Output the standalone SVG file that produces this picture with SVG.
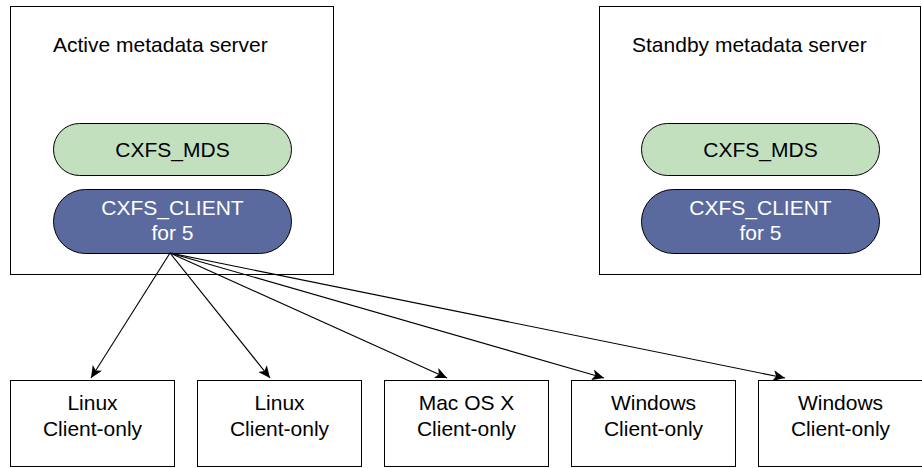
<svg xmlns="http://www.w3.org/2000/svg" width="922" height="468" viewBox="0 0 922 468">
<style>
.box{fill:#fff;stroke:#000;stroke-width:1}
.mds{fill:#c2e0bd;stroke:#000;stroke-width:1}
.cli{fill:#5a6a9e;stroke:#000;stroke-width:1}
text{font-family:"Liberation Sans",Arial,sans-serif;font-size:21px;fill:#000}
.c{text-anchor:middle}
.w{fill:#fff}
.edge{stroke:#000;stroke-width:1.1;fill:none;marker-end:url(#ah)}
</style>
<defs>
<marker id="ah" markerWidth="14" markerHeight="12" refX="12" refY="6" orient="auto" markerUnits="userSpaceOnUse">
<path d="M0,0.5 L12,6 L0,11.5 L3,6 Z" fill="#000"/>
</marker>
</defs>
<g id="active">
<rect class="box" x="10.5" y="6.5" width="323" height="268"/>
<text x="53" y="52">Active metadata server</text>
</g>
<g id="active-mds">
<rect class="mds" x="53.5" y="123.5" width="238" height="52" rx="26"/>
<text class="c" x="172.5" y="157">CXFS_MDS</text>
</g>
<g id="active-client">
<rect class="cli" x="53.5" y="189.5" width="238" height="64" rx="32"/>
<text class="c w" x="172.5" y="215">CXFS_CLIENT</text>
<text class="c w" x="172.5" y="240">for 5</text>
</g>
<g id="standby">
<rect class="box" x="599.5" y="6.5" width="321" height="268"/>
<text x="632" y="52">Standby metadata server</text>
</g>
<g id="standby-mds">
<rect class="mds" x="641.5" y="123.5" width="238" height="52" rx="26"/>
<text class="c" x="760.5" y="157">CXFS_MDS</text>
</g>
<g id="standby-client">
<rect class="cli" x="641.5" y="189.5" width="238" height="64" rx="32"/>
<text class="c w" x="760.5" y="215">CXFS_CLIENT</text>
<text class="c w" x="760.5" y="240">for 5</text>
</g>
<g id="client1">
<rect class="box" x="10.5" y="380.5" width="164" height="86"/>
<text class="c" x="92.5" y="410">Linux</text>
<text class="c" x="92.5" y="436">Client-only</text>
</g>
<g id="client2">
<rect class="box" x="197.5" y="380.5" width="164" height="86"/>
<text class="c" x="279.5" y="410">Linux</text>
<text class="c" x="279.5" y="436">Client-only</text>
</g>
<g id="client3">
<rect class="box" x="384.5" y="380.5" width="164" height="86"/>
<text class="c" x="466.5" y="410">Mac OS X</text>
<text class="c" x="466.5" y="436">Client-only</text>
</g>
<g id="client4">
<rect class="box" x="571.5" y="380.5" width="164" height="86"/>
<text class="c" x="653.5" y="410">Windows</text>
<text class="c" x="653.5" y="436">Client-only</text>
</g>
<g id="client5">
<rect class="box" x="758.5" y="380.5" width="164" height="86"/>
<text class="c" x="840.5" y="410">Windows</text>
<text class="c" x="840.5" y="436">Client-only</text>
</g>
<g id="connectors">
<path class="edge" d="M170,253 L91,378"/>
<path class="edge" d="M170,253 L270,378"/>
<path class="edge" d="M170,253 L447,378"/>
<path class="edge" d="M170,253 L604,378"/>
<path class="edge" d="M170,253 L785,378"/>
</g>
</svg>
